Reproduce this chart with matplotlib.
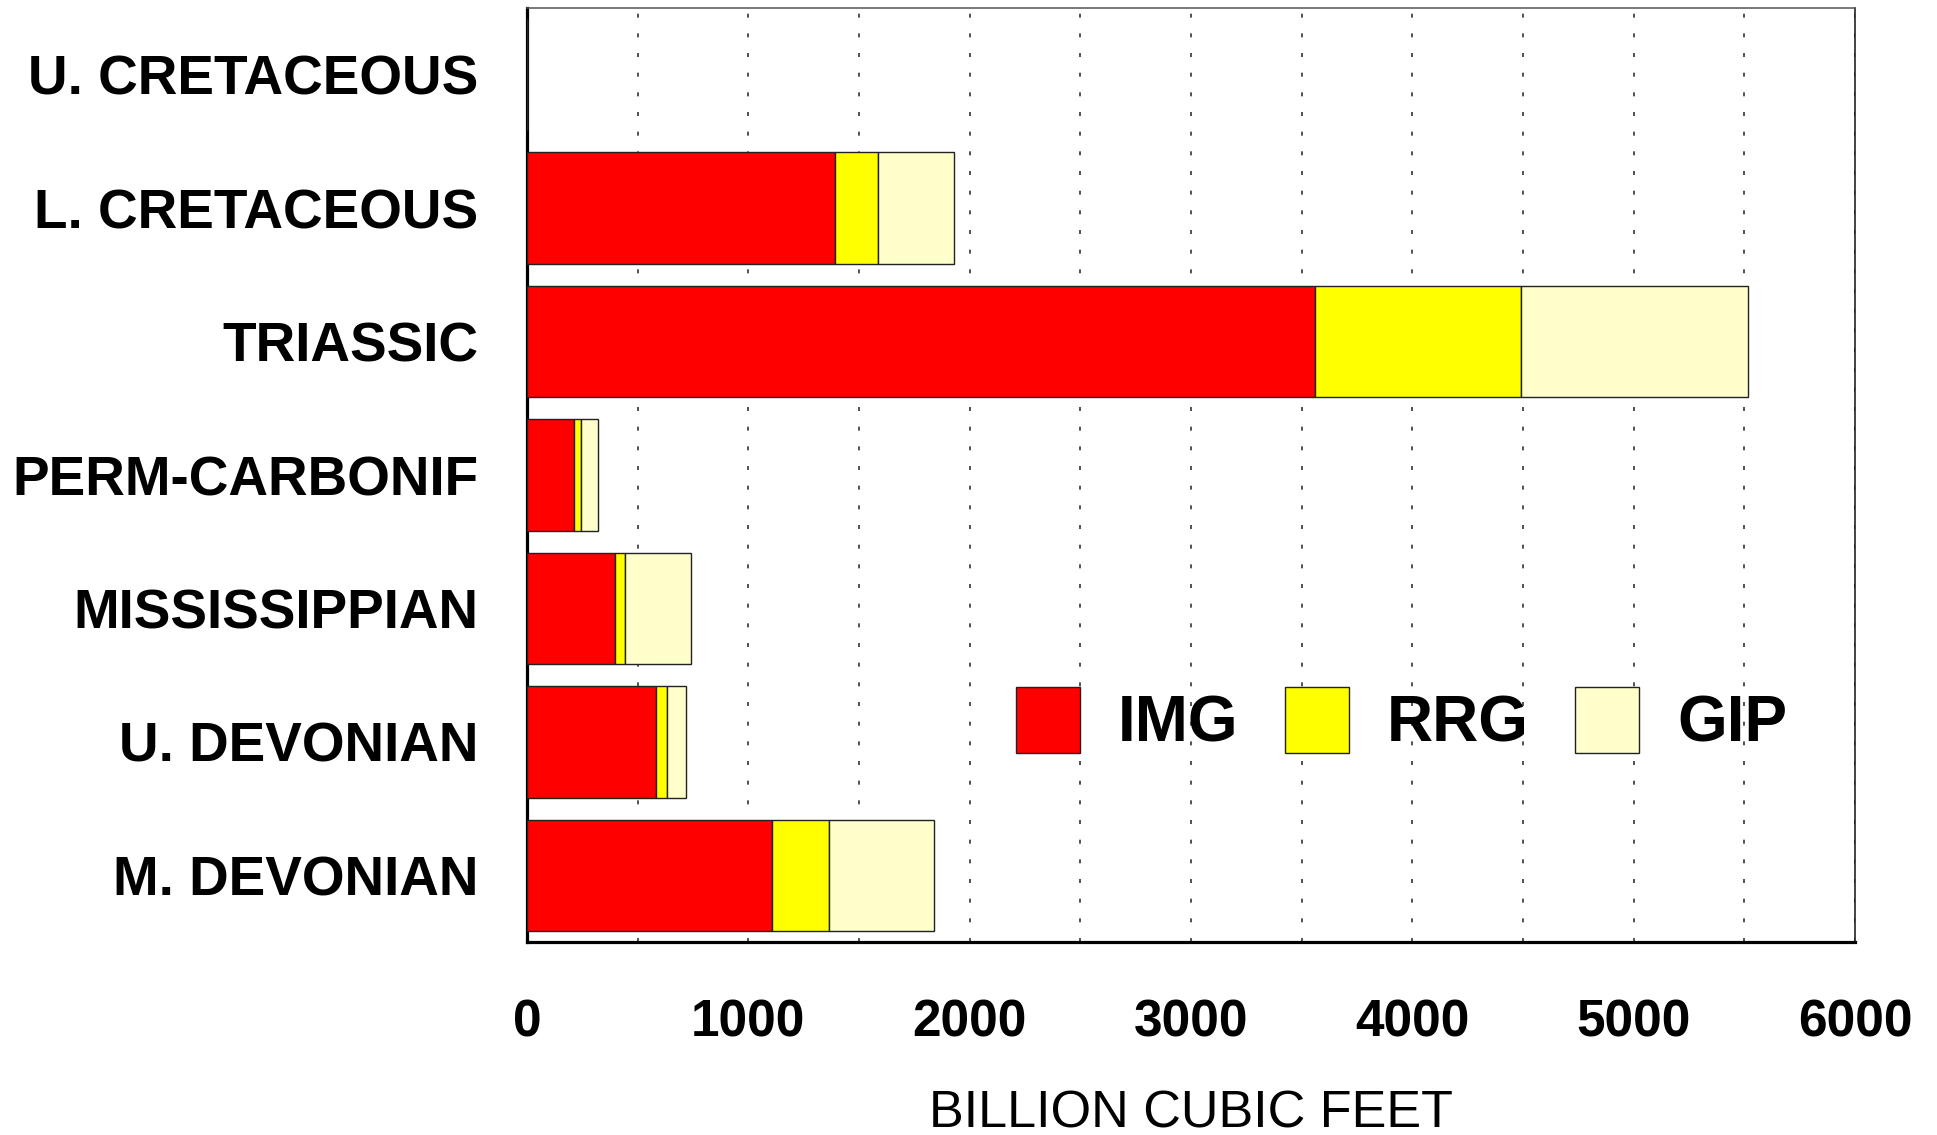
import matplotlib
matplotlib.use("Agg")
import matplotlib.pyplot as plt
from matplotlib.ticker import MultipleLocator
import numpy as np

categories = ["U. CRETACEOUS", "L. CRETACEOUS", "TRIASSIC", "PERM-CARBONIF",
              "MISSISSIPPIAN", "U. DEVONIAN", "M. DEVONIAN"]
img = [0, 1392, 3559, 211, 398, 581, 1106]
rrg = [0, 193, 933, 33, 45, 53, 257]
gip = [0, 345, 1026, 77, 297, 84, 478]
series_names = ["IMG", "RRG", "GIP"]
colors = ["#ff0000", "#ffff00", "#ffffcc"]
xticks = [0, 1000, 2000, 3000, 4000, 5000, 6000]
xlabel = "BILLION CUBIC FEET"

plt.rcParams['font.family'] = ['Liberation Sans', 'DejaVu Sans']

fig = plt.figure(figsize=(19.37, 11.35), dpi=100)
ax = fig.add_axes([527/1937, 1 - 942/1135, (1855 - 527)/1937, (942 - 8)/1135])

y = np.arange(len(categories))
left = np.zeros(len(categories))
handles = []
for vals, col, name in zip([img, rrg, gip], colors, series_names):
    v = np.array(vals, dtype=float)
    b = ax.barh(y, v, left=left, height=0.836, color=col, edgecolor='#222222',
                linewidth=1.0, label=name, zorder=3)
    handles.append(b)
    left = left + v

ax.set_ylim(len(categories) - 0.5, -0.5)
ax.set_xlim(0, 6000)
ax.set_yticks(y)
ax.set_yticklabels(categories, fontsize=39.5, fontweight='bold')
ax.set_xticks(xticks)
ax.set_xticklabels([str(t) for t in xticks], fontsize=37, fontweight='bold')
ax.xaxis.set_minor_locator(MultipleLocator(500))
ax.tick_params(axis='y', length=0, pad=35)
ax.tick_params(axis='x', which='both', length=0, pad=41)
ax.grid(True, axis='x', which='both', color='#333333', linewidth=1.2,
        linestyle=(0, (2.4, 9.4)), zorder=0)
ax.set_axisbelow(True)
ax.set_xlabel(xlabel, fontsize=37.5, labelpad=30)

for s in ['left', 'bottom']:
    ax.spines[s].set_linewidth(2.3)
    ax.spines[s].set_color('black')
ax.spines['top'].set_linewidth(1.1)
ax.spines['top'].set_color('#555555')
ax.spines['right'].set_linewidth(1.1)
ax.spines['right'].set_color('#111111')

leg = fig.legend(handles=handles, labels=series_names, loc='center left',
                 bbox_to_anchor=(1016/1937, 1 - 721/1135), ncol=3, frameon=False,
                 prop={'size': 46, 'weight': 'bold'}, handlelength=1.0,
                 handleheight=1.2, handletextpad=0.6, columnspacing=0.72,
                 borderpad=0, borderaxespad=0)

fig.savefig("out.png", dpi=100)
